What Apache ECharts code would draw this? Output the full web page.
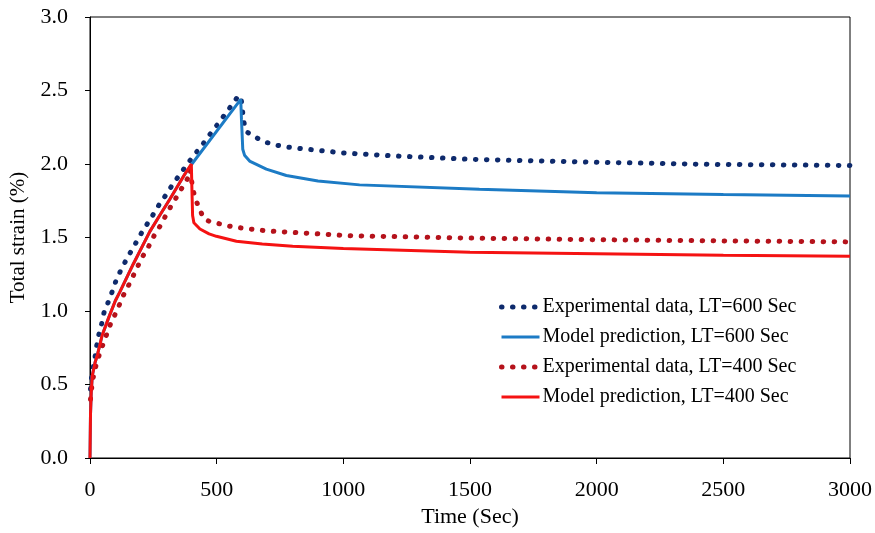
<!DOCTYPE html>
<html>
<head>
<meta charset="utf-8">
<script src="https://cdn.jsdelivr.net/npm/echarts@6/dist/echarts.min.js"></script>
<style>
  html, body { margin: 0; padding: 0; background: #fff; }
  #chart { width: 875px; height: 533px; }
</style>
</head>
<body>
<div id="chart"></div>
<script>
// [time (s), total strain (%)]
const expLT600 = [
  [2, 0.47], [5, 0.535], [12, 0.61], [20, 0.689], [26, 0.76], [35, 0.84], [46, 0.914],
  [55, 0.987], [72, 1.061], [88, 1.133], [102, 1.203], [121, 1.275], [141, 1.341],
  [162, 1.406], [184, 1.472], [206, 1.539], [230, 1.603], [253, 1.666], [276, 1.732],
  [300, 1.79], [326, 1.86], [352, 1.923], [377, 1.982], [403, 2.043], [431, 2.104],
  [457, 2.162], [483, 2.224], [510, 2.284], [535, 2.343], [561, 2.404], [587, 2.467],
  [596, 2.45], [600, 2.40], [604, 2.33], [610, 2.26], [617, 2.22], [652, 2.183],
  [692, 2.149], [736, 2.128], [778, 2.115], [1000, 2.075], [1200, 2.055], [1500, 2.032],
  [2000, 2.012], [2424, 1.998], [3000, 1.99]
]
const modelLT600 = [
  [0, 0], [2, 0.3], [5, 0.45], [9, 0.56], [20, 0.65], [29, 0.70], [48, 0.835], [75, 0.96],
  [100, 1.07], [118, 1.13], [171, 1.32], [236, 1.54], [275, 1.65], [315, 1.76], [374, 1.93],
  [400, 1.995], [595, 2.44], [598, 2.3], [603, 2.1], [610, 2.06], [630, 2.02], [696, 1.965],
  [775, 1.922], [900, 1.885], [1064, 1.858], [1537, 1.828], [2000, 1.805], [2500, 1.792],
  [3000, 1.783]
]
const expLT400 = [
  [2, 0.4], [6, 0.47], [13, 0.55], [25, 0.64], [40, 0.72], [55, 0.79], [70, 0.86],
  [85, 0.93], [96, 0.966], [114, 1.034], [131, 1.104], [151, 1.17], [171, 1.241],
  [190, 1.309], [210, 1.377], [233, 1.444], [253, 1.512], [276, 1.576], [298, 1.646],
  [319, 1.711], [342, 1.776], [364, 1.84], [385, 1.9], [395, 1.96], [405, 1.84],
  [414, 1.772], [431, 1.698], [449, 1.63], [470, 1.61], [490, 1.603], [535, 1.582],
  [578, 1.569], [621, 1.56], [666, 1.551], [705, 1.544], [757, 1.539], [1025, 1.512],
  [1529, 1.495], [2000, 1.485], [2424, 1.478], [3000, 1.47]
]
const modelLT400 = [
  [0, 0], [2, 0.3], [5, 0.45], [9, 0.56], [20, 0.65], [29, 0.70], [48, 0.835], [75, 0.96],
  [100, 1.07], [118, 1.13], [171, 1.32], [236, 1.54], [275, 1.65], [315, 1.76], [374, 1.93],
  [400, 2.0], [402, 1.85], [405, 1.65], [410, 1.6], [434, 1.558], [470, 1.525], [499, 1.508],
  [578, 1.475], [680, 1.455], [800, 1.44], [1000, 1.425], [1500, 1.40], [2000, 1.39],
  [2500, 1.38], [3000, 1.372]
]

const seriesNames = [
  'Experimental data, LT=600 Sec',
  'Model prediction, LT=600 Sec',
  'Experimental data, LT=400 Sec',
  'Model prediction, LT=400 Sec'
]
const colors = ['#0e2a6c', '#1c7bc5', '#b5121b', '#f51212']

const font = 'Liberation Serif, Times New Roman, serif'
const chart = echarts.init(document.getElementById('chart'))

const dotted = (color) => ({ color: color, width: 5, type: [0.5, 10.5], cap: 'round' })
const solid = (color) => ({ color: color, width: 3 })

chart.setOption({
  animation: false,
  grid: {
    left: 90, right: 24, top: 17, bottom: 73,
    show: true, borderColor: '#000', borderWidth: 1
  },
  legend: {
    orient: 'vertical',
    left: 494,
    top: 292,
    itemWidth: 38,
    itemHeight: 14,
    itemGap: 10,
    textStyle: { fontFamily: font, fontSize: 20, color: '#000', padding: [0, 0, 0, -2] },
    data: seriesNames.map((n, i) => ({
      name: n,
      itemStyle: { opacity: 0 },
      lineStyle: i % 2 === 0 ? dotted(colors[i]) : solid(colors[i])
    }))
  },
  xAxis: {
    type: 'value',
    min: 0, max: 3000, interval: 500,
    name: 'Time (Sec)',
    nameLocation: 'middle',
    nameGap: 48,
    nameTextStyle: { fontFamily: font, fontSize: 22, color: '#000' },
    axisLine: { lineStyle: { color: '#000' } },
    axisTick: { length: 6, lineStyle: { color: '#000' } },
    axisLabel: { margin: 21, fontFamily: font, fontSize: 22, color: '#000', formatter: (v) => String(v) },
    splitLine: { show: false }
  },
  yAxis: {
    type: 'value',
    min: 0, max: 3, interval: 0.5,
    name: 'Total strain (%)',
    nameLocation: 'middle',
    nameGap: 61,
    nameTextStyle: { fontFamily: font, fontSize: 21, color: '#000' },
    axisLine: { show: true, lineStyle: { color: '#000' } },
    axisTick: { show: true, length: 5, lineStyle: { color: '#000' } },
    axisLabel: {
      margin: 22, fontFamily: font, fontSize: 22, color: '#000',
      formatter: (v) => v.toFixed(1)
    },
    splitLine: { show: false }
  },
  series: [
    { name: seriesNames[0], type: 'line', data: expLT600, symbol: 'none', lineStyle: dotted(colors[0]), itemStyle: { color: colors[0] } },
    { name: seriesNames[1], type: 'line', data: modelLT600, symbol: 'none', lineStyle: solid(colors[1]), itemStyle: { color: colors[1] } },
    { name: seriesNames[2], type: 'line', data: expLT400, symbol: 'none', lineStyle: dotted(colors[2]), itemStyle: { color: colors[2] } },
    { name: seriesNames[3], type: 'line', data: modelLT400, symbol: 'none', lineStyle: solid(colors[3]), itemStyle: { color: colors[3] } }
  ]
})
</script>
</body>
</html>
